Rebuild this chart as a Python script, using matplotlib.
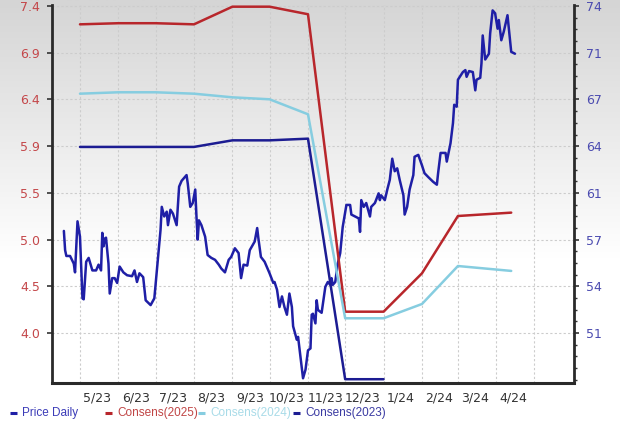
import numpy as np
import pandas as pd
import matplotlib
matplotlib.use("Agg")
import matplotlib.pyplot as plt
from matplotlib.colors import LinearSegmentedColormap
from matplotlib.lines import Line2D
from matplotlib.ticker import FixedLocator, FuncFormatter, NullFormatter

BASE = pd.Timestamp("2023-05-01")

# daily price, x = days since 2023-05-01
price_day = [
    -13, -12, -11, -8, -5, -4, -2, 0, 2, 3,
    5, 7, 10, 13, 15, 17, 18, 19, 20, 21,
    23, 24, 26, 28, 30, 32, 35, 38, 42, 44,
    46, 48, 51, 53, 57, 60, 65, 66, 68, 70,
    71, 73, 75, 78, 80, 82, 86, 87, 89, 91,
    93, 94, 95, 96, 98, 101, 103, 106, 109, 112,
    114, 117, 120, 122, 125, 128, 130, 132, 135, 137,
    141, 143, 144, 146, 149, 153, 156, 157, 159, 161,
    163, 165, 167, 169, 171, 172, 175, 176, 180, 182,
    184, 186, 187, 188, 190, 191, 192, 195, 198, 200,
    202, 203, 204, 206, 208, 210, 212, 215, 218, 219,
    222, 225, 226, 227, 229, 231, 234, 235, 238, 241,
    242, 243, 246, 248, 250, 252, 254, 256, 258, 261,
    262, 264, 266, 269, 270, 273, 276, 278, 281, 285,
    288, 289, 291, 295, 296, 299, 301, 302, 304, 305,
    309, 311, 312, 314, 317, 319, 320, 323, 324, 325,
    327, 330, 331, 333, 335, 337, 338, 340, 342, 345,
    347, 348, 351,
]
price = [
    5.06, 4.86, 4.80, 4.80, 4.72, 4.63, 5.16, 5.00, 4.36, 4.35,
    4.74, 4.78, 4.65, 4.65, 4.71, 4.65, 5.04, 4.90, 4.98, 4.99,
    4.72, 4.41, 4.57, 4.57, 4.52, 4.69, 4.63, 4.60, 4.59, 4.65,
    4.53, 4.62, 4.58, 4.34, 4.29, 4.36, 5.07, 5.31, 5.21, 5.26,
    5.12, 5.28, 5.24, 5.12, 5.52, 5.58, 5.64, 5.55, 5.31, 5.35,
    5.49, 5.21, 4.97, 5.17, 5.12, 5.00, 4.81, 4.78, 4.76, 4.71,
    4.67, 4.63, 4.76, 4.79, 4.88, 4.83, 4.57, 4.71, 4.70, 4.86,
    4.95, 5.09, 4.98, 4.79, 4.74, 4.62, 4.52, 4.53, 4.45, 4.27,
    4.38, 4.27, 4.19, 4.41, 4.27, 4.07, 3.93, 3.96, 3.53, 3.62,
    3.82, 3.84, 4.19, 4.20, 4.10, 4.34, 4.24, 4.21, 4.48, 4.53,
    4.50, 4.57, 4.50, 4.53, 4.72, 4.83, 5.10, 5.33, 5.33, 5.23,
    5.21, 5.19, 5.05, 5.38, 5.31, 5.35, 5.21, 5.31, 5.35, 5.45,
    5.38, 5.43, 5.38, 5.49, 5.59, 5.81, 5.68, 5.71, 5.59, 5.43,
    5.23, 5.31, 5.49, 5.64, 5.83, 5.85, 5.74, 5.66, 5.62, 5.57,
    5.54, 5.66, 5.87, 5.87, 5.78, 5.97, 6.18, 6.37, 6.35, 6.63,
    6.71, 6.73, 6.66, 6.72, 6.71, 6.52, 6.63, 6.65, 6.80, 7.09,
    6.84, 6.90, 7.11, 7.35, 7.32, 7.16, 7.25, 7.04, 7.13, 7.30,
    7.04, 6.92, 6.90,
]

# consensus estimates (right axis)
consens_dates = ["2023-05-01", "2023-06-01", "2023-07-01", "2023-08-01", "2023-09-01",
                 "2023-10-01", "2023-11-01", "2023-12-01", "2024-01-01", "2024-02-01",
                 "2024-03-01", "2024-04-13"]
consens_2025 = [72.63, 72.71, 72.71, 72.63, 73.89, 73.89, 73.35, 52.12, 52.12, 54.86, 58.95, 59.19]
consens_2024 = [67.68, 67.78, 67.78, 67.68, 67.42, 67.28, 66.21, 51.65, 51.65, 52.67, 55.38, 55.03]
consens_2023 = [63.88, 63.88, 63.88, 63.88, 64.35, 64.35, 64.47, 47.30, 47.30]

month_labels = ["5/23", "6/23", "7/23", "8/23", "9/23", "10/23", "11/23",
                "12/23", "1/24", "2/24", "3/24", "4/24"]

C_PRICE = "#1f1fa6"
C_2025 = "#b8262b"
C_2024 = "#86cde0"
C_2023 = "#1c1c92"

fig = plt.figure(figsize=(6.2, 4.28), dpi=100)

# grey-to-white background
bg = fig.add_axes([0, 0, 1, 1], zorder=-10)
grad = np.clip(np.linspace(0, 1.65, 256), 0, 1)[:, None]
cmap = LinearSegmentedColormap.from_list("bg", ["#d5d5d5", "#ffffff"])
bg.imshow(grad, aspect="auto", cmap=cmap, extent=[0, 1, 0, 1], origin="upper")
bg.axis("off")

ax = fig.add_axes([52 / 620, 45 / 428, 522 / 620, 378 / 428])
ax.set_facecolor("none")
ax2 = ax.twinx()

px = BASE + pd.to_timedelta(price_day, unit="D")
cd = pd.to_datetime(consens_dates)
line_kw = dict(lw=1.8, solid_joinstyle="round", solid_capstyle="round")
ax.plot(px, price, color=C_PRICE, zorder=3, **line_kw)
ax2.plot(cd, consens_2025, color=C_2025, **line_kw)
ax2.plot(cd, consens_2024, color=C_2024, **line_kw)
ax2.plot(cd[:len(consens_2023)], consens_2023, color=C_2023, **line_kw)

ax.set_xlim(pd.Timestamp("2023-04-08 10:00"), pd.Timestamp("2024-06-02 16:00"))
ax.set_ylim(3.481, 7.406)
ax2.set_ylim(47.03, 74.01)

# left axis: price
left_ticks = 4.0 + 0.485 * np.arange(8)
ax.yaxis.set_major_locator(FixedLocator(left_ticks))
ax.yaxis.set_major_formatter(FuncFormatter(lambda v, p: f"{v:.1f}"))
ax.tick_params(axis="y", direction="out", length=3.5, width=1.2, pad=5,
               labelsize=9, labelcolor="#c4474a", color="#333333")

# right axis: estimates
right_ticks = 50.6 + (10 / 3) * np.arange(8)
ax2.yaxis.set_major_locator(FixedLocator(right_ticks))
ax2.yaxis.set_minor_locator(FixedLocator(50.6 + (10 / 12) * np.arange(-4, 29)))
ax2.yaxis.set_major_formatter(FuncFormatter(lambda v, p: f"{v:.0f}"))
ax2.yaxis.set_minor_formatter(NullFormatter())
ax2.tick_params(axis="y", which="major", direction="out", length=3.5, width=1.2,
                pad=5, labelsize=9, labelcolor="#4b4bb0", color="#333333")
ax2.tick_params(axis="y", which="minor", direction="out", length=2.5, width=1.0,
                color="#333333")

# x axis: grid at month starts, labels mid-month
month_starts = pd.date_range("2023-05-01", "2024-05-01", freq="MS")
mid_months = month_starts[:12] + pd.Timedelta(days=14)
ax.xaxis.set_minor_locator(FixedLocator(matplotlib.dates.date2num(month_starts)))
ax.xaxis.set_major_locator(FixedLocator(matplotlib.dates.date2num(mid_months)))
ax.set_xticklabels(month_labels)
ax.tick_params(axis="x", which="both", length=0, pad=6, labelsize=9, labelcolor="#333333")

grid_kw = dict(color="#cccccc", linestyle=(0, (2, 2)), lw=0.8)
ax.xaxis.grid(True, which="minor", **grid_kw)
ax.xaxis.grid(False, which="major")
ax.yaxis.grid(True, **grid_kw)

for a in (ax, ax2):
    a.spines["top"].set_visible(False)
ax.spines["right"].set_visible(False)
ax2.spines["left"].set_visible(False)
ax2.spines["bottom"].set_visible(False)
ax.spines["left"].set_linewidth(2.0)
ax.spines["bottom"].set_linewidth(2.2)
ax2.spines["right"].set_linewidth(2.0)
for s in ("left", "bottom"):
    ax.spines[s].set_color("#2a2a2a")
ax2.spines["right"].set_color("#2a2a2a")

# legend row
legend_items = [
    ("Price Daily", C_PRICE, "#3c3cb8", 10),
    ("Consens(2025)", C_2025, "#c04545", 105),
    ("Consens(2024)", C_2024, "#a8dbe8", 198),
    ("Consens(2023)", C_2023, "#3a3aa2", 293),
]
ly = 1 - 413 / 428
for name, lc, tc, x0 in legend_items:
    fig.add_artist(Line2D([x0 / 620, (x0 + 7) / 620], [ly, ly], transform=fig.transFigure,
                          color=lc, lw=2.2, solid_capstyle="butt"))
    fig.text((x0 + 12) / 620, ly, name, color=tc, fontsize=8.5, va="center",
             family="Liberation Sans")

fig.savefig("out.png", dpi=100)
